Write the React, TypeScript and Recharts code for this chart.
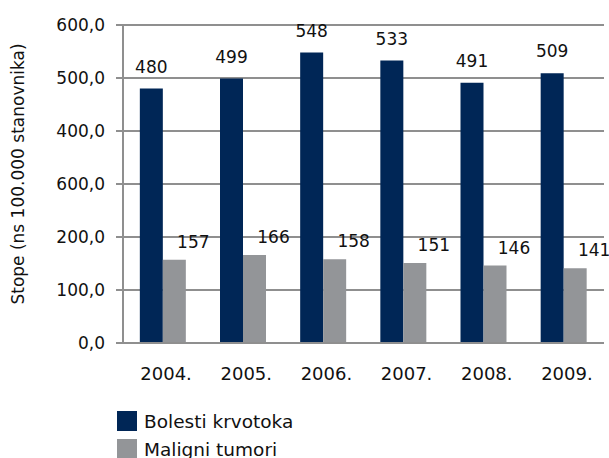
import React from 'react';
import { BarChart, Bar, XAxis, YAxis, CartesianGrid, Legend, LabelList } from 'recharts';

const years = ['2004.', '2005.', '2006.', '2007.', '2008.', '2009.'];
const bolesti = [480, 499, 548, 533, 491, 509];
const maligni = [157, 166, 158, 151, 146, 141];
const yTicks = [0, 100, 200, 300, 400, 500, 600];
// tick labels as printed in the original (the 300 mark reads "600,0")
const yTickLabels = ['0,0', '100,0', '200,0', '600,0', '400,0', '500,0', '600,0'];

const NAVY = '#002656';
const GRAY = '#939598';
const LINE = '#8f8f8f';
const FONT = '"DejaVu Sans", sans-serif';

const data = years.map((year, i) => ({
  year,
  bolesti: bolesti[i],
  maligni: maligni[i],
}));

const legendItems = [
  { name: 'Bolesti krvotoka', color: NAVY },
  { name: 'Maligni tumori', color: GRAY },
];

const LegendBox = () => (
  <div style={{ fontFamily: FONT, fontSize: 18.5, color: '#111', paddingLeft: 117 }}>
    {legendItems.map((it) => (
      <div key={it.name} style={{ display: 'flex', alignItems: 'center', height: 28 }}>
        <span style={{ width: 20, height: 20, background: it.color, marginRight: 7, display: 'inline-block' }} />
        {it.name}
      </div>
    ))}
  </div>
);

// gray series labels sit a bit to the right of the bar
const GrayLabel = (props: any) => {
  const { x, y, width, value } = props;
  return (
    <text x={x + width / 2 + 19} y={y - 12} textAnchor="middle" fontFamily={FONT} fontSize={17} fill="#111">
      {value}
    </text>
  );
};

// rotated axis title, a bit above the plot's middle like the original
const YTitle = (props: any) => {
  const { viewBox } = props;
  const cy = viewBox.y + viewBox.height / 2 - 10;
  return (
    <text x={18} y={cy} transform={`rotate(-90, 18, ${cy})`} textAnchor="middle" dominantBaseline="central"
      fontFamily={FONT} fontSize={17} fill="#111">
      Stope (ns 100.000 stanovnika)
    </text>
  );
};

export default function App() {
  return (
    <div style={{ position: 'absolute', left: 0, top: 0, background: '#fff' }}>
      <BarChart
        width={609}
        height={458}
        data={data}
        margin={{ top: 25, right: 5, left: 0, bottom: 19 }}
        barGap={0}
        barCategoryGap="21%"
      >
        <CartesianGrid vertical={false} stroke={LINE} strokeWidth={2} />
        <XAxis
          dataKey="year"
          tickLine={false}
          axisLine={{ stroke: LINE, strokeWidth: 2 }}
          tickSize={0}
          tickMargin={24}
          height={40}
          interval={0}
          tick={{ fontFamily: FONT, fontSize: 18, fill: '#111', dx: 3 }}
        />
        <YAxis
          domain={[0, 600]}
          ticks={yTicks}
          interval={0}
          width={123}
          tickSize={7}
          tickMargin={11}
          axisLine={{ stroke: LINE, strokeWidth: 2 }}
          tickLine={{ stroke: LINE, strokeWidth: 2 }}
          tickFormatter={(v: number) => yTickLabels[yTicks.indexOf(v)]}
          tick={{ fontFamily: FONT, fontSize: 17, fill: '#111' }}
          label={<YTitle />}
        />
        <Legend
          layout="horizontal"
          verticalAlign="bottom"
          align="left"
          content={<LegendBox />}
          wrapperStyle={{ bottom: -5, left: 0 }}
        />
        <Bar dataKey="bolesti" name="Bolesti krvotoka" fill={NAVY} isAnimationActive={false}>
          <LabelList dataKey="bolesti" position="top" offset={16} style={{ fontFamily: FONT, fontSize: 17, fill: '#111' }} />
        </Bar>
        <Bar dataKey="maligni" name="Maligni tumori" fill={GRAY} isAnimationActive={false}>
          <LabelList dataKey="maligni" content={<GrayLabel />} />
        </Bar>
      </BarChart>
    </div>
  );
}
